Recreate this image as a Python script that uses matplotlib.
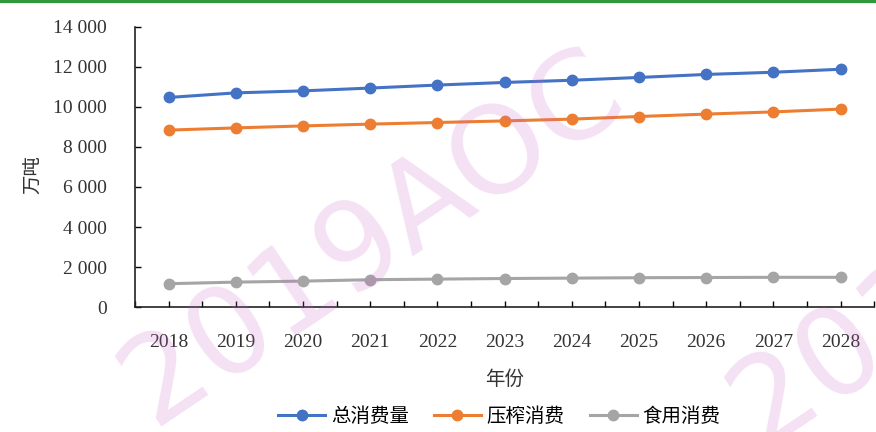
import numpy as np
import matplotlib.pyplot as plt
from matplotlib.lines import Line2D

plt.rcParams['font.family'] = ['Liberation Serif', 'Noto Sans CJK SC', 'DejaVu Sans']

years = ['2018', '2019', '2020', '2021', '2022', '2023', '2024', '2025', '2026', '2027', '2028']
total = [10470, 10700, 10800, 10940, 11090, 11220, 11330, 11470, 11620, 11730, 11880]
crush = [8840, 8950, 9050, 9140, 9220, 9300, 9390, 9520, 9640, 9750, 9890]
food = [1170, 1250, 1300, 1370, 1400, 1430, 1450, 1470, 1480, 1490, 1490]
names = ['总消费量', '压榨消费', '食用消费']
colors = ['#4472C4', '#ED7D31', '#A5A5A5']
yticks = [0, 2000, 4000, 6000, 8000, 10000, 12000, 14000]
ylabels = ['0', '2 000', '4 000', '6 000', '8 000', '10 000', '12 000', '14 000']

fig = plt.figure(figsize=(8.76, 4.32), dpi=100)
ax = fig.add_axes([0.154, 0.289, 0.844, 0.649])

x = np.arange(len(years))
for vals, c, n in zip([total, crush, food], colors, names):
    ax.plot(x, vals, color=c, lw=2.2, marker='o', ms=7.5, label=n, zorder=3)

ax.set_xlim(-0.5, len(years) - 0.5)
ax.set_ylim(0, 14000)
ax.set_yticks(yticks)
ax.set_yticklabels(ylabels, fontsize=14, color='#333333')
ax.set_xticks(x)
ax.set_xticklabels(years, fontsize=14, color='#333333')
ax.set_xticks(np.arange(-0.5, len(years), 1), minor=True)
ax.tick_params(axis='y', direction='in', length=4, width=1, pad=20)
ax.tick_params(axis='x', which='both', direction='in', length=4, width=1, pad=19)
for s in ['top', 'right']:
    ax.spines[s].set_visible(False)
for s in ['left', 'bottom']:
    ax.spines[s].set_color('#222222')
    ax.spines[s].set_linewidth(1.2)

ax.set_xlabel('年份', fontsize=14, color='#333333', labelpad=14)
fig.text(0.038, 0.595, '万吨', rotation=90, fontsize=14, color='#333333',
         ha='center', va='center')

handles = [Line2D([0], [0], color=c, lw=2.2, marker='o', ms=7.5) for c in colors]
fig.legend(handles, names, loc='center', bbox_to_anchor=(0.57, 0.035), ncol=3,
           frameon=False, fontsize=14, handlelength=2.4, columnspacing=1.3,
           handletextpad=0.3)

# watermark
fig.text(0.425, 0.45, '2019AOC', rotation=34, fontsize=88, color='#c868c8',
         alpha=0.2, ha='center', va='center', family='DejaVu Sans',
         zorder=10)
fig.text(1.12, 0.40, '2019AOC', rotation=34, fontsize=88, color='#c868c8',
         alpha=0.2, ha='center', va='center', family='DejaVu Sans',
         zorder=10)

# green top rule
fig.add_artist(Line2D([0, 1], [0.997, 0.997], color='#2e9a3c', lw=3,
                      transform=fig.transFigure))

fig.savefig('out.png', dpi=100)
